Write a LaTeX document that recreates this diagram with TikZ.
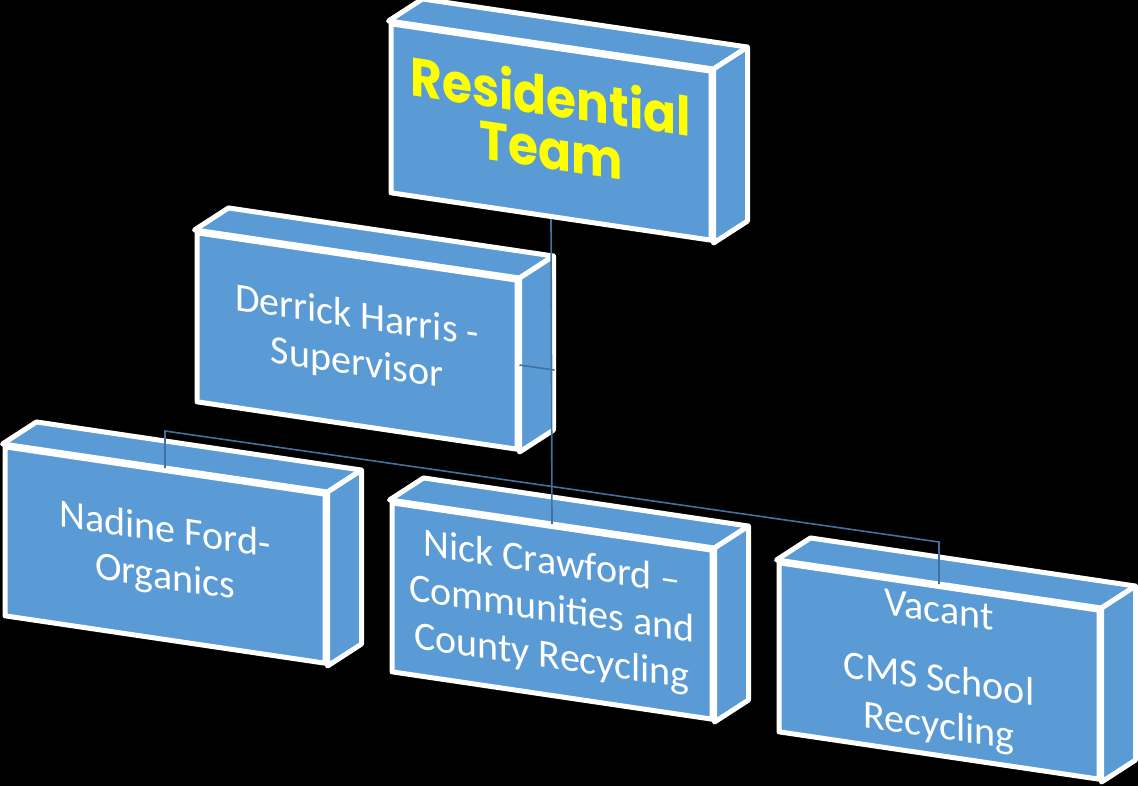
\documentclass[tikz,border=0pt]{standalone}
\usepackage{fontspec}
\setmainfont{Carlito}
\newfontfamily\titlefont{Poppins}[FakeStretch=0.9]
\usetikzlibrary{calc}
\definecolor{boxblue}{HTML}{5B9BD5}
\definecolor{linkblue}{HTML}{41719C}
\definecolor{titleyellow}{HTML}{FFFF00}
\tikzset{
  face/.style={fill=boxblue, draw=white, line width=5pt, line join=round},
  front/.style={face, rectangle, minimum width=320pt, minimum height=169pt,
    inner sep=0pt, transform shape, text=white, align=center,
    font=\fontsize{40}{47}\selectfont},
  titletext/.style={text=titleyellow, font=\titlefont\bfseries\fontsize{54}{53}\selectfont},
  link/.style={draw=linkblue, line width=1.6pt},
}
\newcommand\orgbox[5]{% name, cx, cy, extra style, text
  \begin{scope}[shift={(#2,#3)}, yslant=-0.148]
    \node[front,#4] (#1) at (0,0) {#5};
  \end{scope}
  \draw[face] (#1.north west) -- ++(34,-22) -- ($(#1.north east)+(34,-22)$) -- (#1.north east) -- cycle;
  \draw[face] (#1.north east) -- ++(34,-22) -- ($(#1.south east)+(34,-22)$) -- (#1.south east) -- cycle;
}
\begin{document}
\begin{tikzpicture}[x=1pt, y=-1pt]
  \useasboundingbox (0,0) rectangle (1138,786);
  \fill[black] (0,0) rectangle (1138,786);

  \orgbox{top}{551}{132}{titletext}{Residential\\Team\\[-31pt]\mbox{}}
  \orgbox{sup}{357}{341}{}{Derrick Harris -\\Supervisor}
  \orgbox{nadine}{165}{555}{}{Nadine Ford-\\Organics}
  \orgbox{nick}{552}{611}{}{Nick Crawford --\\Communities and\\County Recycling}
  \orgbox{vacant}{939}{671}{}{Vacant\\[22pt]CMS School\\Recycling}

  \coordinate (busL) at ($(nadine.north)+(0,-37)$);
  \coordinate (busR) at ($(vacant.north)+(0,-42)$);
  \coordinate (supJ) at ($(sup.east)+(35,5)$);

  \draw[link] (top.south) -- (nick.north);
  \draw[link] (sup.east) -- (supJ);
  \draw[link] (nadine.north) -- (busL) -- (busR) -- (vacant.north);
\end{tikzpicture}
\end{document}
